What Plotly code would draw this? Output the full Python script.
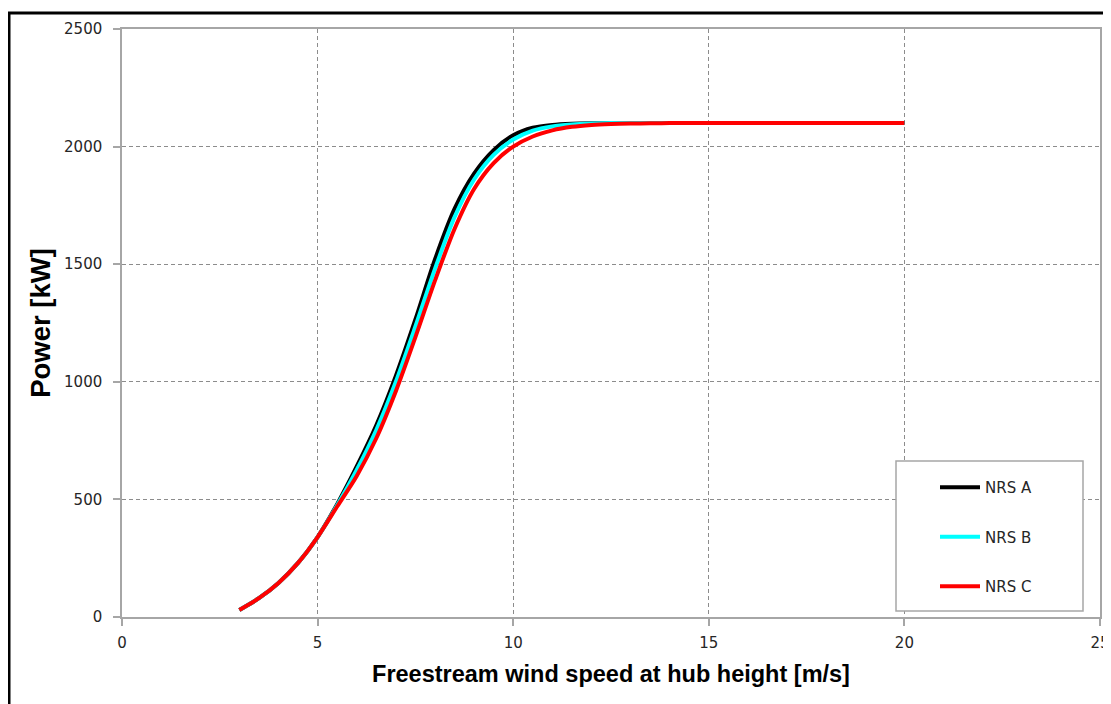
import plotly.graph_objects as go

wind_speed = [3, 3.5, 4, 4.5, 5, 5.5, 6, 6.5, 7, 7.5, 8, 8.5, 9, 9.5, 10,
              10.5, 11, 11.5, 12, 12.5, 13, 13.5, 14, 15, 16, 17, 18, 19, 20]
power_a = [30, 80, 145, 230, 340, 480, 640, 815, 1025, 1265, 1520, 1735, 1885, 1985, 2048,
           2080, 2092, 2097, 2099, 2100, 2100, 2100, 2100, 2100, 2100, 2100, 2100, 2100, 2100]
power_b = [30, 80, 145, 230, 340, 475, 625, 795, 1000, 1235, 1480, 1700, 1860, 1965, 2030,
           2068, 2086, 2094, 2098, 2100, 2100, 2100, 2100, 2100, 2100, 2100, 2100, 2100, 2100]
power_c = [30, 80, 145, 230, 340, 470, 600, 760, 960, 1190, 1430, 1650, 1820, 1930, 2000,
           2043, 2069, 2084, 2092, 2096, 2098, 2099, 2100, 2100, 2100, 2100, 2100, 2100, 2100]
series_names = ["NRS A", "NRS B", "NRS C"]
series_colors = ["#000000", "#00FFFF", "#FF0000"]
x_ticks = [0, 5, 10, 15, 20, 25]
y_ticks = [0, 500, 1000, 1500, 2000, 2500]

# page body has an 8px margin: figure origin is at (8, 8) in the window
OFF = 8
W, H = 1111 - OFF, 704 - OFF
PL, PR, PT, PB = 122 - OFF, 1100 - OFF, 29 - OFF, 617 - OFF  # plot area in figure px
PW, PH = PR - PL, PB - PT


def px(xw):
    return (xw - OFF - PL) / PW


def py(yw):
    return (PB - (yw - OFF)) / PH


fig = go.Figure()
for i, (name, vals, col) in enumerate(zip(series_names, [power_a, power_b, power_c], series_colors)):
    fig.add_trace(go.Scatter(
        x=wind_speed, y=vals, name=name, mode="lines",
        line=dict(color=col, width=4, shape="spline", smoothing=0.8),
        legendgroup=f"g{i}",
    ))

axis_common = dict(
    showline=True, linecolor="#A6A6A6", linewidth=1.5, mirror=True,
    showgrid=True, gridcolor="#8C8C8C", gridwidth=1, griddash="4px,3px",
    ticks="outside", tickcolor="#A6A6A6", ticklen=7, tickwidth=1.5,
    tickfont=dict(family="DejaVu Sans", size=15, color="#262626"),
    zeroline=False,
)

fig.update_xaxes(range=[0, 25], tickvals=x_ticks, ticklabelstandoff=4,
                 title=dict(text="<b>Freestream wind speed at hub height [m/s]</b>",
                            font=dict(family="Liberation Sans", size=23.5, color="#000000"),
                            standoff=15),
                 **axis_common)
fig.update_yaxes(range=[0, 2500], tickvals=y_ticks, ticklabelstandoff=8,
                 title=dict(text="<b>Power [kW]</b>",
                            font=dict(family="Liberation Sans", size=27.5, color="#000000"),
                            standoff=5),
                 **axis_common)

# legend box
fig.add_shape(type="rect", xref="paper", yref="paper",
              x0=px(896), x1=px(1083), y0=py(611), y1=py(461),
              line=dict(color="#A6A6A6", width=1.5), fillcolor="white", layer="above")
# outer frame
fig.add_shape(type="rect", xref="paper", yref="paper",
              x0=px(9), x1=px(1125), y0=py(720), y1=py(13),
              line=dict(color="#000000", width=3), fillcolor="rgba(0,0,0,0)")

fig.update_layout(
    width=W, height=H,
    margin=dict(l=PL, r=W - PR, t=PT, b=H - PB, autoexpand=False),
    paper_bgcolor="white", plot_bgcolor="white",
    showlegend=True,
    legend=dict(x=px(935), y=py(471), xanchor="left", yanchor="top",
                bgcolor="rgba(0,0,0,0)", borderwidth=0,
                font=dict(family="DejaVu Sans", size=15, color="#262626"),
                traceorder="grouped", tracegroupgap=27, itemwidth=40),
)

fig.write_html("out.html")
